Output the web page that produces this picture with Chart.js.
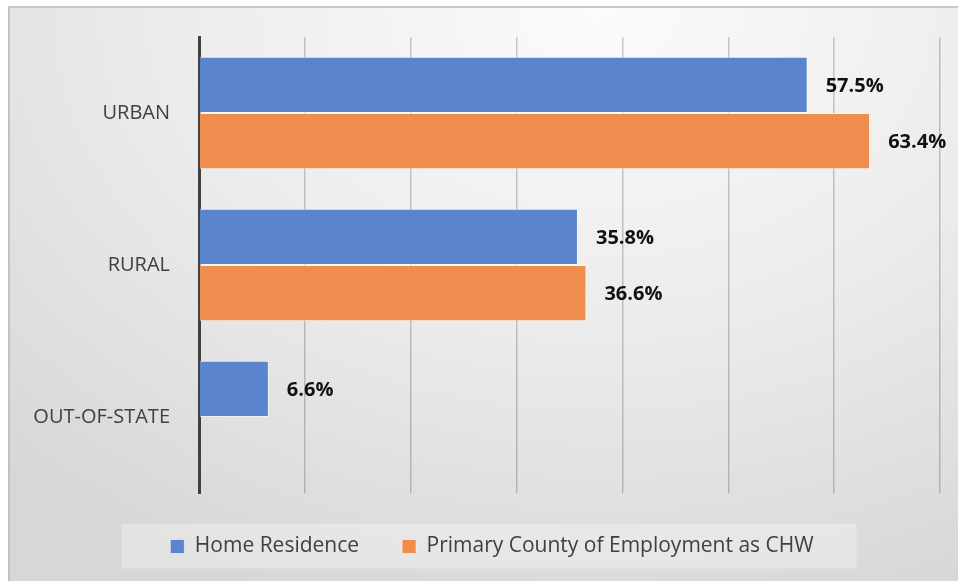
<!DOCTYPE html>
<html>
<head>
<meta charset="utf-8">
<script src="https://cdn.jsdelivr.net/npm/chart.js@4"></script>
<style>
    html, body { margin: 0; padding: 0; background: #fff; }
    #panel {
        position: absolute; left: 8px; top: 6px; right: 0; bottom: 0;
        border-top: 2px solid #c8c8c8;
        border-left: 2px solid #c2c2c2;
        background: radial-gradient(ellipse 90% 110% at 62% 0%, #fbfbfb 0%, #ececec 50%, #d7d7d7 100%);
    }
    #wrap { position: absolute; left: 0; top: 0; width: 958px; height: 581px; }
</style>
</head>
<body>
<div id="panel"></div>
<div id="wrap"><canvas id="myChart" width="958" height="581"></canvas></div>
<script>
const categories = ['URBAN', 'RURAL', 'OUT-OF-STATE'];
const homeResidence = [57.5, 35.8, 6.6];
const countyOfEmployment = [63.4, 36.6, null];
const seriesNames = ['Home Residence', 'Primary County of Employment as CHW'];

const FONT = "'Open Sans', 'DejaVu Sans', sans-serif";

// value labels to the right of each bar
const valueLabels = {
    id: 'valueLabels',
    afterDatasetsDraw(chart) {
        const ctx = chart.ctx;
        ctx.save();
        ctx.font = 'bold 20px ' + FONT;
        ctx.fillStyle = '#111';
        ctx.textAlign = 'left';
        ctx.textBaseline = 'middle';
        chart.data.datasets.forEach((ds, i) => {
            const meta = chart.getDatasetMeta(i);
            meta.data.forEach((bar, j) => {
                const v = ds.data[j];
                if (v === null || v === undefined) return;
                ctx.fillText(v.toFixed(1) + '%', bar.x + 18, bar.y + 1);
            });
        });
        ctx.restore();
    }
};

// light box behind the legend
const legendBox = {
    id: 'legendBox',
    beforeDraw(chart) {
        const legend = chart.legend;
        if (!legend || !legend.legendHitBoxes || !legend.legendHitBoxes.length) return;
        const boxes = legend.legendHitBoxes;
        const first = boxes[0];
        const last = boxes[boxes.length - 1];
        const mid = first.top + first.height / 2;
        const ctx = chart.ctx;
        ctx.save();
        ctx.fillStyle = 'rgba(255,255,255,0.3)';
        ctx.fillRect(first.left - 49, mid - 23, last.left + last.width + 43 - (first.left - 49), 45);
        ctx.restore();
    }
};

// y labels are clipped to the scale box; let the long one run to the canvas edge
const wideLabels = {
    id: 'wideLabels',
    afterLayout(chart) {
        const y = chart.scales.y;
        y.width = y.right;
        y.left = 0;
    }
};

let barChart;

function showChart() {
    const ctx = document.getElementById('myChart');

    const data = {
        labels: categories,
        datasets: [{
            label: seriesNames[0],
            data: homeResidence,
            backgroundColor: '#5a84cc',
            borderColor: 'rgba(255,255,255,0.55)',
            borderWidth: 1
        }, {
            label: seriesNames[1],
            data: countyOfEmployment,
            backgroundColor: '#ee8d4d',
            borderColor: 'rgba(255,255,255,0.55)',
            borderWidth: 1
        }]
    };

    const options = {
        indexAxis: 'y',
        responsive: false,
        animation: false,
        datasets: {
            bar: { categoryPercentage: 0.74, barPercentage: 1.0 }
        },
        layout: {
            padding: { left: 44, right: 18, top: 37, bottom: 14 }
        },
        scales: {
            x: {
                min: 0,
                max: 70,
                ticks: { display: false, stepSize: 10 },
                grid: { color: 'rgba(0,0,0,0.2)', lineWidth: 1.5, drawTicks: false },
                border: { display: false },
                afterFit(scale) { scale.height = 0; }
            },
            y: {
                ticks: {
                    color: '#404040',
                    padding: 29,
                    font: { family: FONT, size: 20 }
                },
                grid: { display: false, drawTicks: false },
                border: { color: '#404040', width: 3 },
                afterFit(scale) {
                    scale.width = 155;
                    scale.paddingTop = 0;
                    scale.paddingBottom = 0;
                }
            }
        },
        plugins: {
            tooltip: { enabled: false },
            legend: {
                position: 'bottom',
                labels: {
                    boxWidth: 14,
                    boxHeight: 14,
                    padding: 43,
                    color: '#404040',
                    font: { family: FONT, size: 21 }
                }
            }
        }
    };

    barChart = new Chart(ctx, {
        type: 'bar',
        data: data,
        options: options,
        plugins: [legendBox, valueLabels, wideLabels]
    });
}

showChart();
</script>
</body>
</html>
